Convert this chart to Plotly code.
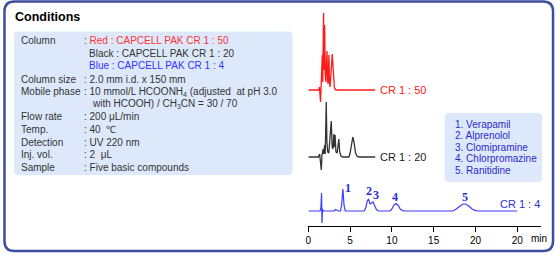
import plotly.graph_objects as go

W, H = 560, 255

# ---------------- data ----------------
red_t = [0, 1.25, 1.33, 1.40, 1.46, 1.52, 1.60, 1.67, 1.72, 1.77, 1.82, 1.87, 1.91, 1.95,
         2.02, 2.10, 2.16, 2.23, 2.30, 2.36, 2.41, 2.46, 2.53, 2.60, 2.70, 2.80, 2.86,
         2.92, 3.02, 3.12, 3.30, 8.0]
red_s = [0, 0, 3, -2, -12, 2, 20, 35, 8, 40, 77, 20, 45, 65,
         15, 8, 25, 39, 10, 6, 20, 35, 8, 3, 15, 33, 36,
         28, 8, 2, 0, 0]

black_t = [0, 1.20, 1.35, 1.45, 1.55, 1.63, 1.70, 1.78, 1.84, 1.95, 2.02, 2.08, 2.14,
           2.22, 2.32, 2.45, 2.62, 2.74, 2.85, 2.95, 3.05, 3.12, 3.20, 3.30, 3.45,
           3.58, 3.65, 3.75, 3.90, 4.10, 4.85, 5.00, 5.15, 5.32, 5.48, 5.65, 5.85,
           6.10, 8.0]
black_s = [0, 0, 3, -3, -13, 2, 6, 8, 3, 12, 3, 25, 55,
           15, 5, 4, 20, 36, 10, 8, 23, 10, 22, 5, 4,
           16, 18, 5, 1, 0, 0, 4, 14, 20, 14, 4, 0.5,
           0, 0]

blue_t = [0, 1.40, 1.50, 1.58, 1.63, 1.70, 1.78, 3.10, 3.25, 3.40, 3.60, 3.85, 3.98,
          4.13, 4.28, 4.42, 6.70, 6.90, 7.05, 7.20, 7.38, 7.50, 7.74, 7.95, 8.15,
          8.40, 9.80, 10.0, 10.25, 10.5, 10.75, 11.0, 11.3, 11.6, 17.3, 17.7, 18.1,
          18.5, 18.8, 19.2, 19.6, 20.0, 20.4, 25.0]
blue_s = [0, 0, 3, 18, -12, 2, 0, 0, 1.5, 1, 0, 0, 6,
          22, 5, 0, 0, 4, 10, 12, 7, 7.5, 9, 5, 1.5,
          0, 0, 2, 6, 7.5, 5.5, 2, 0.3, 0, 0, 2, 5,
          7, 7, 5, 2, 0.4, 0, 0]

tick_vals = [0, 5, 10, 15, 20, 25]
tick_text = ["0", "5", "10", "15", "20", "20"]

series_labels = ["CR 1 : 50", "CR 1 : 20", "CR 1 : 4"]
compounds = ["1. Verapamil", "2. Alprenolol", "3. Clomipramine",
             "4. Chlorpromazine", "5. Ranitidine"]
peak_numbers = ["1", "2", "3", "4", "5"]

cond_labels = ["Column", "", "", "Column size", "Mobile phase", "", "Flow rate",
               "Temp.", "Detection", "Inj. vol.", "Sample"]
cond_values = [
    ": <span style='color:#ff3333'>Red : CAPCELL PAK CR 1 : 50</span>",
    "Black : CAPCELL PAK CR 1 : 20",
    "<span style='color:#3333ff'>Blue : CAPCELL PAK CR 1 : 4</span>",
    ": 2.0 mm i.d. x 150 mm",
    ": 10 mmol/L HCOONH<sub>4</sub> (adjusted  at pH 3.0",
    "with HCOOH) / CH<sub>3</sub>CN = 30 / 70",
    ": 200 μL/min",
    ": 40  ℃",
    ": UV 220 nm",
    ": 2  μL",
    ": Five basic compounds",
]

# ---------------- helpers ----------------
def px(x):
    return x / W


def py(y):
    return 1 - y / H


def rrect(x0, y0, x1, y1, r):
    rx, ry = r / W, r / H
    X0, X1, Y0, Y1 = px(x0), px(x1), py(y0), py(y1)
    return (f"M {X0+rx},{Y0} L {X1-rx},{Y0} Q {X1},{Y0} {X1},{Y0-ry} "
            f"L {X1},{Y1+ry} Q {X1},{Y1} {X1-rx},{Y1} L {X0+rx},{Y1} "
            f"Q {X0},{Y1} {X0},{Y1+ry} L {X0},{Y0-ry} Q {X0},{Y0} {X0+rx},{Y0} Z")


FONT = "Liberation Sans, Arial, sans-serif"
RED, BLACK, BLUE = "#ff1a1a", "#333333", "#3c3cff"

fig = go.Figure()
fig.add_trace(go.Scatter(x=red_t, y=red_s, mode="lines", line=dict(color=RED, width=1.3),
                         xaxis="x", yaxis="y", hoverinfo="skip"))
fig.add_trace(go.Scatter(x=black_t, y=black_s, mode="lines", line=dict(color=BLACK, width=1.3),
                         xaxis="x", yaxis="y2", hoverinfo="skip"))
fig.add_trace(go.Scatter(x=blue_t, y=blue_s, mode="lines", line=dict(color=BLUE, width=1.2),
                         xaxis="x", yaxis="y3", hoverinfo="skip"))

yhidden = dict(visible=False, fixedrange=True)
fig.update_layout(
    width=W, height=H, margin=dict(l=0, r=0, t=0, b=0),
    paper_bgcolor="white", plot_bgcolor="rgba(0,0,0,0)",
    showlegend=False,
    xaxis=dict(domain=[px(307), px(541)], range=[0, (541 - 307) / 8.4],
               anchor="free", position=py(226),
               showgrid=False, zeroline=False, showline=True, linecolor="black", linewidth=1,
               ticks="outside", ticklen=5, tickcolor="black", tickwidth=1,
               tickvals=tick_vals, ticktext=tick_text,
               tickfont=dict(family=FONT, size=10, color="black"), fixedrange=True),
    yaxis=dict(domain=[py(105), py(5)], range=[-15, 85], anchor="x", **yhidden),
    yaxis2=dict(domain=[py(172), py(97)], range=[-15, 60], anchor="x", **yhidden),
    yaxis3=dict(domain=[py(226), py(186)], range=[-15, 25], anchor="x", **yhidden),
)

shapes = [
    dict(type="path", xref="paper", yref="paper", path=rrect(1.5, 1.5, 553, 251, 10),
         line=dict(color="#3d4e9e", width=2.5), fillcolor="rgba(0,0,0,0)", layer="below"),
    dict(type="path", xref="paper", yref="paper", path=rrect(11, 31.5, 291, 175, 4),
         line=dict(width=0), fillcolor="#dde9fb", layer="below"),
    dict(type="path", xref="paper", yref="paper", path=rrect(444, 113, 542, 182, 4),
         line=dict(width=0), fillcolor="#dde9fb", layer="below"),
]
fig.update_layout(shapes=shapes)

ann = []


def text(x, y, s, size=10, color="#333333", anchor="left", family=FONT):
    ann.append(dict(x=px(x), y=py(y), xref="paper", yref="paper", text=s, showarrow=False,
                    xanchor=anchor, yanchor="middle",
                    font=dict(family=family, size=size, color=color)))


text(10, 17, "<b>Conditions</b>", size=12.5, color="black")

rows_y = [41, 53.5, 66, 79, 91.5, 104, 117, 129.5, 142, 154.5, 167]
for lab, val, yy in zip(cond_labels, cond_values, rows_y):
    if lab:
        text(16, yy, lab)
    if val.startswith(":"):
        text(79, yy, val)
    elif val.startswith("with"):
        text(87, yy, val)
    else:
        text(84, yy, val)

# series labels
text(377, 90, series_labels[0], size=11, color=RED)
text(377, 157, series_labels[1], size=11, color="#222222")
text(542, 204, series_labels[2], size=11, color="#2e2ed6", anchor="right")

# compounds legend
for i, c in enumerate(compounds):
    text(452, 124.5 + i * 11.4, c, size=10, color="#2a2ad0")

# peak numbers
peak_pos = [(346.5, 188), (368, 190.5), (375.5, 195), (394, 197), (464, 197)]
for n, (x, y) in zip(peak_numbers, peak_pos):
    text(x, y, f"<b>{n}</b>", size=12, color="#2a2ad0", anchor="center",
         family="Liberation Serif, Times New Roman, serif")

# axis unit
text(529, 238, "min", size=10, color="black")

fig.update_layout(annotations=ann)
fig.write_html("out.html")
